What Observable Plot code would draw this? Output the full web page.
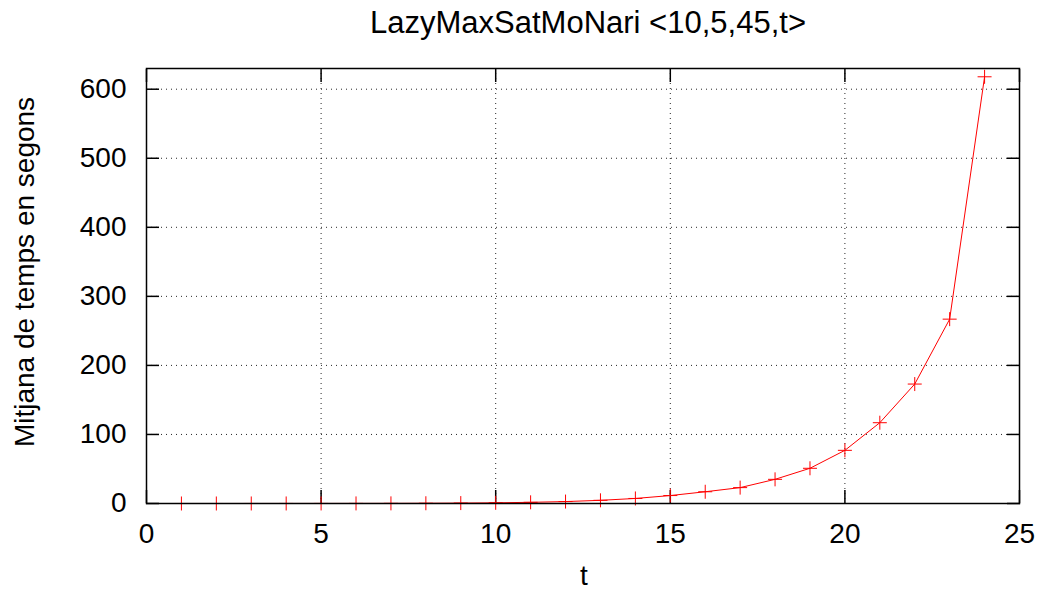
<!DOCTYPE html>
<html><head><meta charset="utf-8">
<script src="https://cdn.jsdelivr.net/npm/d3@7"></script>
<script src="https://cdn.jsdelivr.net/npm/@observablehq/plot@0.6"></script>
<style>html,body{margin:0;padding:0;background:#fff}</style>
</head><body><div id="chart"></div>
<script>
const title = "LazyMaxSatMoNari <10,5,45,t>";
const xLabel = "t";
const yLabel = "Mitjana de temps en segons";
const tValues = [1,2,3,4,5,6,7,8,9,10,11,12,13,14,15,16,17,18,19,20,21,22,23,24];
const meanSeconds = [0.01,0.02,0.03,0.05,0.08,0.12,0.2,0.35,0.6,1.0,1.7,2.8,4.6,7.3,11.5,17,23,35,51,77,117,173,267,618];
const xTicks = [0,5,10,15,20,25];
const yTicks = [0,100,200,300,400,500,600];

const data = tValues.map((t, i) => ({t, s: meanSeconds[i]}));
const plusSymbol = {
  draw(ctx, size) {
    const r = Math.sqrt(size / Math.PI);
    ctx.moveTo(-r, 0); ctx.lineTo(r, 0);
    ctx.moveTo(0, -r); ctx.lineTo(0, r);
  }
};
const gridStyle = {stroke: "#000", strokeOpacity: 0.85, strokeWidth: 1, strokeDasharray: "1,4"};
const tickStyle = {tickSize: -13, fill: "none", label: null, strokeWidth: 1.5, stroke: "#000"};
const textStyle = {tickSize: 0, tickPadding: 20, label: null, fill: "#000"};

const chart = Plot.plot({
  width: 1045, height: 592,
  marginLeft: 146, marginRight: 26, marginTop: 68, marginBottom: 89,
  style: {fontFamily: "'Liberation Sans', Arial, sans-serif", fontSize: "28px", background: "#fff", color: "#000"},
  x: {domain: [0, 25]},
  y: {domain: [0, 630]},
  marks: [
    Plot.gridX(xTicks.slice(1, -1), gridStyle),
    Plot.gridY(yTicks.slice(1), gridStyle),
    Plot.axisX(xTicks, {anchor: "bottom", ...tickStyle}),
    Plot.axisX(xTicks, {anchor: "top", ...tickStyle}),
    Plot.axisY(yTicks, {anchor: "left", ...tickStyle}),
    Plot.axisY(yTicks, {anchor: "right", ...tickStyle}),
    Plot.axisX(xTicks, {anchor: "bottom", ...textStyle}),
    Plot.axisY(yTicks, {anchor: "left", ...textStyle}),
    Plot.line(data, {x: "t", y: "s", stroke: "#ff0000", strokeWidth: 1}),
    Plot.dot(data, {x: "t", y: "s", symbol: plusSymbol, r: 7, stroke: "#ff0000", strokeWidth: 1, fill: "none"}),
    Plot.frame({stroke: "#000", strokeWidth: 1.5}),
    Plot.text([title], {frameAnchor: "top", textAnchor: "middle", lineAnchor: "middle", dy: -45, dx: 5, fontSize: 31}),
    Plot.text([xLabel], {frameAnchor: "bottom", textAnchor: "middle", lineAnchor: "middle", dy: 73, dx: 1, fontSize: 28}),
    Plot.text([yLabel], {frameAnchor: "left", textAnchor: "middle", lineAnchor: "middle", dx: -121, dy: -14, rotate: -90, fontSize: 28})
  ]
});
document.getElementById("chart").appendChild(chart);
</script>
</body></html>
